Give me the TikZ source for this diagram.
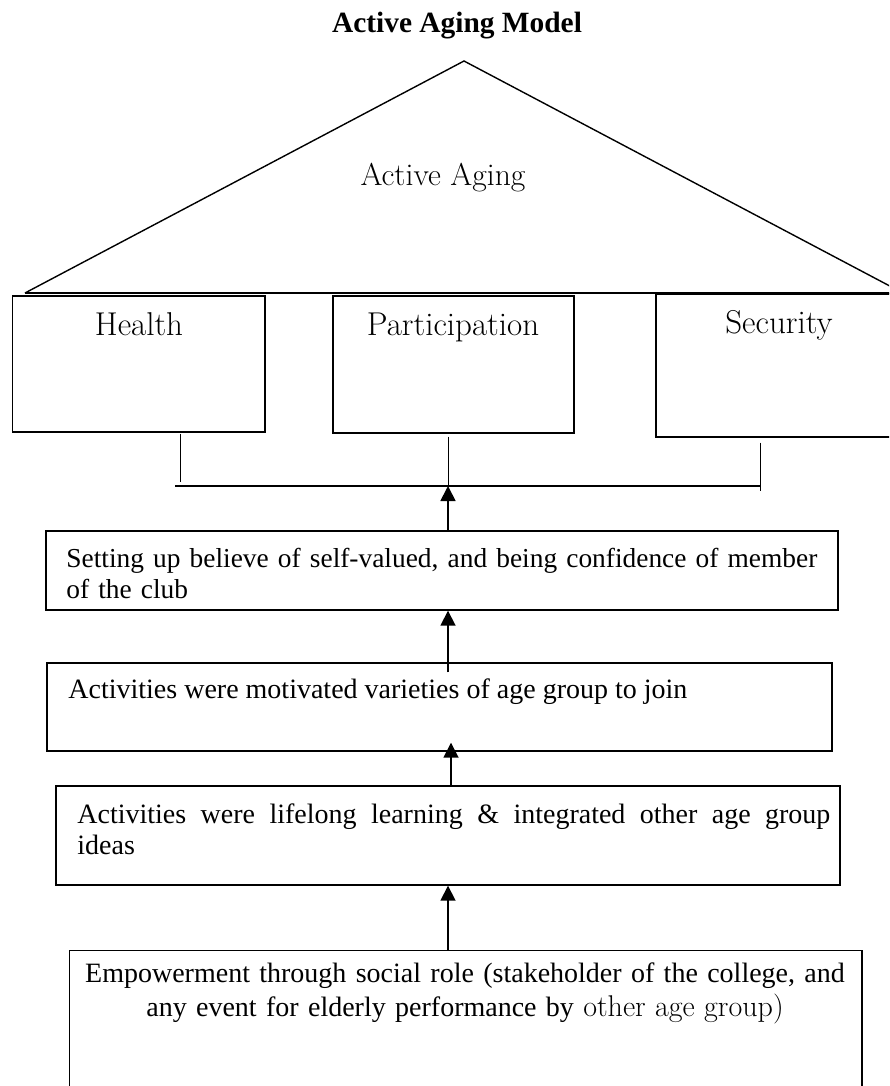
\documentclass[tikz,border=0pt]{standalone}
\usepackage{fontspec}
\newfontfamily\tnr{Liberation Serif}
\usetikzlibrary{arrows.meta}

\begin{document}
\begin{tikzpicture}[x=0.5pt,y=-0.5pt,
    pillar/.style={draw,line width=0.7pt,inner sep=0pt},
    block/.style={draw,line width=0.7pt,inner sep=0pt},
    pillar-text/.style={font=\fontsize{16.5}{19}\selectfont,inner sep=0pt},
    body-text/.style={font=\tnr\fontsize{14}{15.5}\selectfont,inner sep=0pt},
    title-text/.style={font=\tnr\bfseries\fontsize{14.7}{17}\selectfont,inner sep=0pt},
    up-arrow/.style={-{Triangle[length=7.5pt,width=7.5pt]},line width=0.9pt},
  ]
  \clip (0,0) rectangle (889,1086);

  % roof
  \coordinate (apex) at (464,61);
  \coordinate (roof-l) at (25,293);
  \coordinate (roof-r) at (903,293);
  \draw[line width=0.7pt] (roof-l) -- (apex) -- (roof-r);
  \draw[line width=1pt] (roof-l) -- (roof-r);
  \node[title-text,anchor=base] (title) at (457,33) {Active Aging Model};
  \node[pillar-text,font=\fontsize{15.8}{19}\selectfont,anchor=base] (roof) at (443,185) {Active Aging};

  % pillars
  \node[pillar,minimum width=126.25pt,minimum height=68pt] (health) at (138.75,364) {};
  \node[pillar,minimum width=120.5pt,minimum height=68.5pt] (part) at (453.5,364.5) {};
  \node[pillar,minimum width=123pt,minimum height=71.5pt] (secur) at (779,365.5) {};
  \node[pillar-text,anchor=base] (health-lbl) at (139,335) {Health};
  \node[pillar-text,anchor=base] (part-lbl) at (453,335) {Participation};
  \node[pillar-text,anchor=base] (secur-lbl) at (779,333) {Security};

  % bus under the pillars
  \coordinate (hj) at (180,486);
  \coordinate (pj) at (448,486);
  \coordinate (sj) at (760,486);
  \draw[line width=0.85pt] ([xshift=-2.5pt]hj) -- (sj);
  \draw[line width=0.5pt] ([yshift=-0.5pt]health.south -| hj) -- ([yshift=2pt]hj);
  \draw[line width=0.5pt] ([yshift=-1.5pt]part.south -| pj) -- (pj);
  \draw[line width=0.5pt] ([yshift=-2.5pt]secur.south -| sj) -- ([yshift=-2.5pt]sj);

  % blocks
  \node[block,minimum width=396pt,minimum height=39.5pt] (belief) at (442,570.5) {};
  \node[block,minimum width=392.5pt,minimum height=44pt] (motive) at (439.5,707) {};
  \node[block,minimum width=392pt,minimum height=49.5pt] (lifelong) at (448,835.5) {};
  \node[block,minimum width=396.25pt,minimum height=75pt] (empower) at (465.75,1025.5) {};

  \node[body-text,font=\tnr\fontsize{13.7}{15.5}\selectfont,anchor=base west,text width=390pt,align=left] (belief-txt) at (66,567)
    {Setting up believe of self-valued, and being confidence of member\\of the club};
  \node[body-text,anchor=base west] (motive-txt) at (68,698)
    {Activities were motivated varieties of age group to join};
  \node[body-text,anchor=base west,text width=376.5pt,align=justify] (lifelong-txt) at (77,823)
    {Activities were lifelong learning \& integrated other age group\linebreak ideas};
  \node[body-text,font=\tnr\fontsize{14}{17}\selectfont,anchor=base,text width=390pt,align=center] (empower-txt) at (465,982)
    {Empowerment through social role (stakeholder of the college, and\\any event for elderly performance by {\rmfamily\fontsize{15}{17}\selectfont other age group)}};

  % arrows
  \coordinate (a3) at (451,0);
  \draw[up-arrow] (belief.north -| pj) -- (pj);
  \draw[up-arrow] ([yshift=-5pt]motive.north -| pj) -- (belief.south -| pj);
  \draw[up-arrow] (lifelong.north -| a3) -- ([yshift=4.5pt]motive.south -| a3);
  \draw[up-arrow] (empower.north -| pj) -- (lifelong.south -| pj);
\end{tikzpicture}
\end{document}
